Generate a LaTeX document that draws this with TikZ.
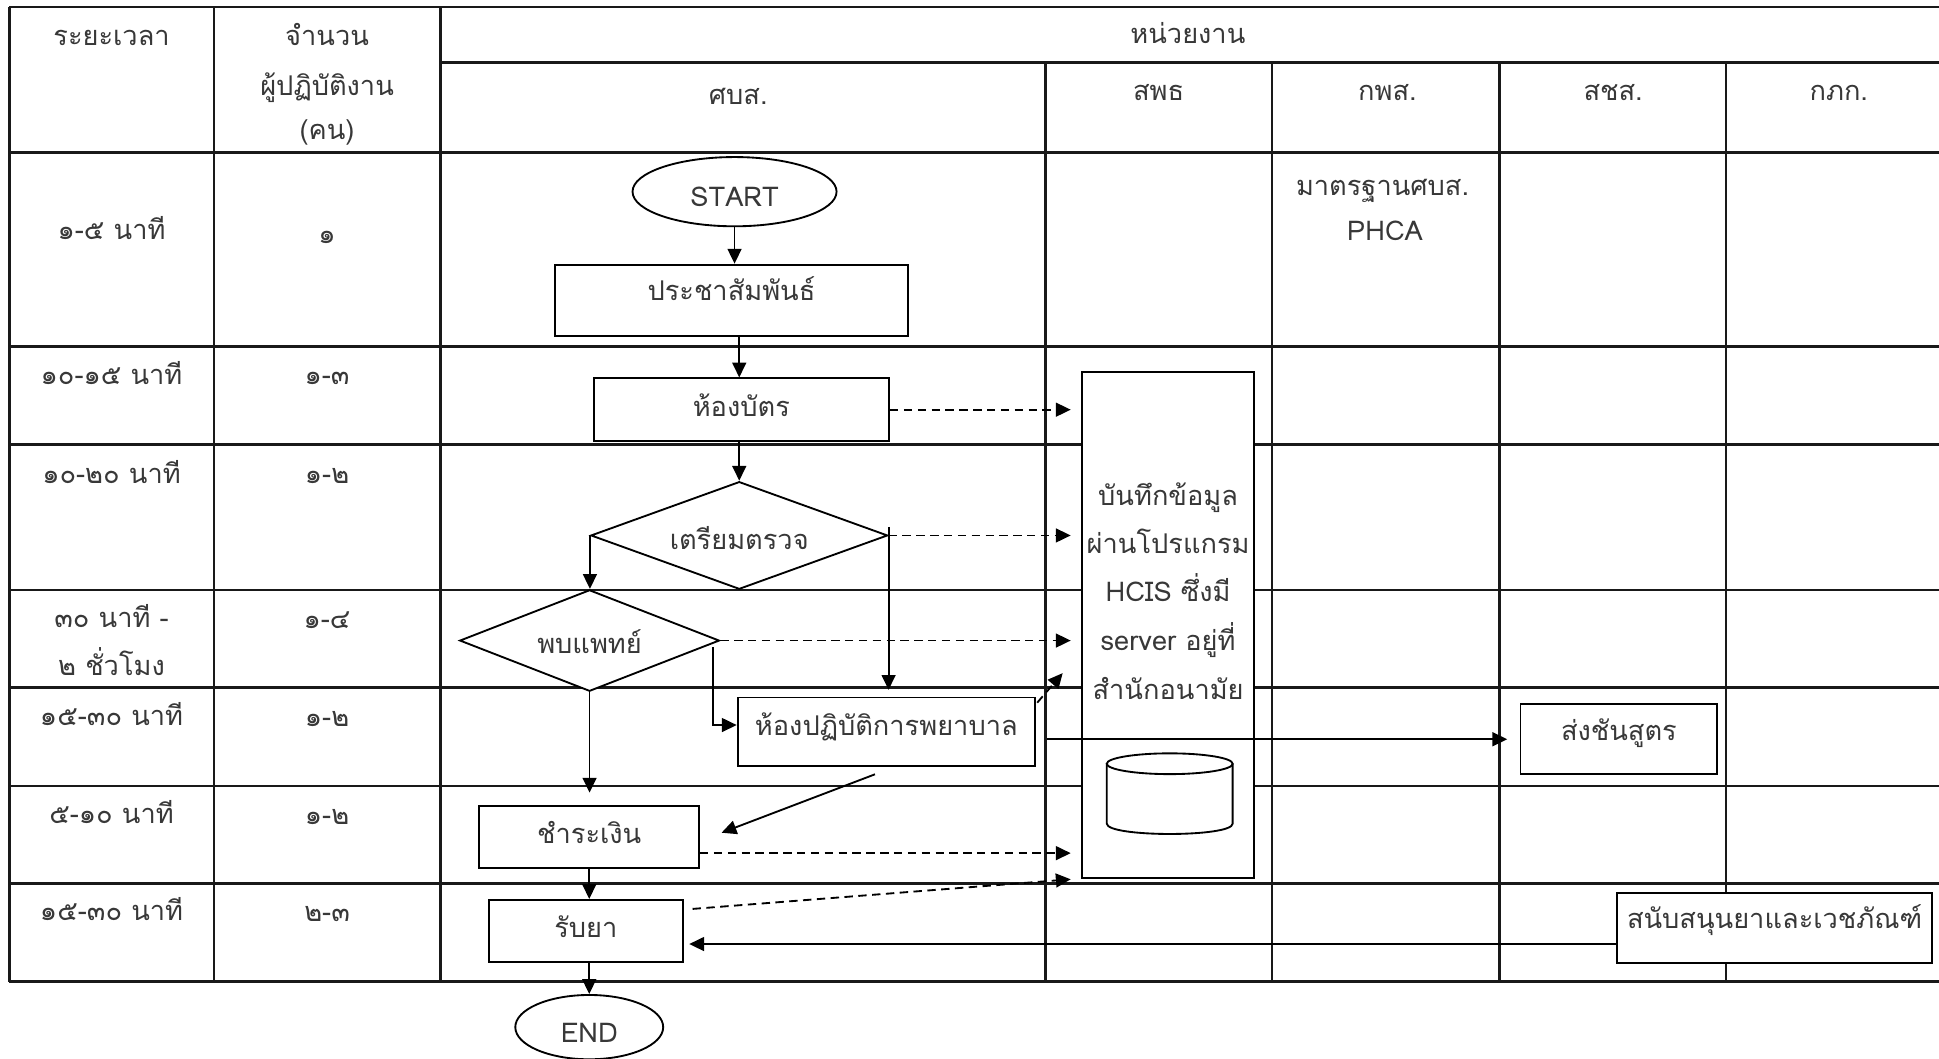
\documentclass[tikz,border=0pt]{standalone}
\usepackage{fontspec}
\setmainfont[Script=Thai]{Loma}
\usetikzlibrary{shapes.geometric,arrows.meta,calc}
\begin{document}
\begin{tikzpicture}[x=0.5pt,y=-0.5pt,
  tbl/.style={line width=1pt, black!90},
  txt/.style={font=\fontsize{11}{13}\selectfont, text=black!78},
  box/.style={txt, draw, line width=0.75pt, fill=white, inner sep=0pt, text height=5.6pt, text depth=0pt},
  term/.style={box, ellipse},
  dia/.style={box, diamond, aspect=2.6},
  lbl/.style={txt, inner sep=0pt, text height=5.6pt, text depth=0pt},
  arr/.style={line width=0.75pt, black, -{Triangle[length=6pt,width=5.6pt]}},
  dsh/.style={arr, dash pattern=on 3.4pt off 2.2pt}
]
\useasboundingbox (0,0) rectangle (1568,856);
\fill[white] (0,0) rectangle (1568,856);
\clip (0,0) rectangle (1568,856);

% ---------- table grid ----------
\draw[tbl] (7.5,5.5) -- (1600,5.5);
\draw[tbl] (356.2,50.7) -- (1600,50.7);
\draw[tbl] (7.5,123.5) -- (1600,123.5);
\foreach \yy in {280.3,359.3,477,556,635.6,714.6} \draw[tbl] (7.5,\yy) -- (1600,\yy);
\draw[tbl] (7.5,793.8) -- (1600,793.8);
\foreach \xx in {7.5,172.9,356.2} \draw[tbl] (\xx,5.5) -- (\xx,793.8);
\foreach \xx in {845.6,1028.5,1212.6,1395.7} \draw[tbl] (\xx,50.7) -- (\xx,793.8);

% ---------- header texts ----------
\node[lbl] (hTime) at (90.2,31) {ระยะเวลา};
\node[lbl] (hNum1) at (264.5,31.5) {จำนวน};
\node[lbl] (hNum2) at (264.5,72) {ผู้ปฏิบัติงาน};
\node[lbl] (hNum3) at (264.5,107) {(คน)};
\node[lbl] (hUnit) at (960.6,29.7) {หน่วยงาน};
\node[lbl] (hA) at (597,79) {ศบส.};
\node[lbl] (hB) at (937,76) {สพธ};
\node[lbl] (hC) at (1122,76) {กพส.};
\node[lbl] (hD) at (1304.5,76) {สชส.};
\node[lbl] (hE) at (1487,76) {กภก.};

% ---------- row texts ----------
\node[lbl] (t1) at (90.2,188) {๑-๕ นาที};
\node[lbl] (n1) at (264.5,191) {๑};
\node[lbl] (t2) at (90.2,305.5) {๑๐-๑๕ นาที};
\node[lbl] (n2) at (264.5,305.5) {๑-๓};
\node[lbl] (t3) at (90.2,385) {๑๐-๒๐ นาที};
\node[lbl] (n3) at (264.5,385) {๑-๒};
\node[lbl] (t4a) at (90.2,502) {๓๐ นาที -};
\node[lbl] (t4b) at (90.2,541) {๒ ชั่วโมง};
\node[lbl] (n4) at (264.5,503) {๑-๔};
\node[lbl] (t5) at (90.2,581.4) {๑๕-๓๐ นาที};
\node[lbl] (n5) at (264.5,581.5) {๑-๒};
\node[lbl] (t6) at (90.2,660.4) {๕-๑๐ นาที};
\node[lbl] (n6) at (264.5,661) {๑-๒};
\node[lbl] (t7) at (90.2,739.1) {๑๕-๓๐ นาที};
\node[lbl] (n7) at (264.5,739.9) {๒-๓};

\node[lbl] (std1) at (1118,152.8) {มาตรฐานศบส.};
\node[lbl, text height=7.6pt] (std2) at (1120,186.5) {PHCA};

% ---------- flow nodes ----------
\node[term, minimum width=82.5pt, minimum height=28pt, text height=11.6pt] (start) at (594,155) {START};
\node[box, minimum width=142.5pt, minimum height=29pt, text depth=5.3pt] (pr) at (591.5,243) {ประชาสัมพันธ์};
\node[box, minimum width=119.5pt, minimum height=25.3pt] (card) at (599.5,331.3) {ห้องบัตร};
\node[dia, minimum width=120pt, minimum height=43.5pt, text height=11.2pt] (prep) at (597.8,433) {เตรียมตรวจ};
\node[dia, minimum width=105pt, minimum height=41pt, text height=10.6pt] (doc) at (476.75,518) {พบแพทย์};
\node[box, minimum width=120.25pt, minimum height=27.7pt, text depth=2.7pt] (lab) at (716.75,591.7) {ห้องปฏิบัติการพยาบาล};
\node[box, minimum width=88.85pt, minimum height=25pt] (pay) at (476.5,676.7) {ชำระเงิน};
\node[box, minimum width=78.25pt, minimum height=25pt] (med) at (473.75,752.75) {รับยา};
\node[term, minimum width=59.8pt, minimum height=26pt, text height=12.6pt] (end) at (476.5,830.6) {END};
\node[box, minimum width=69.4pt, minimum height=204.85pt] (hcis) at (944.6,505.45) {};
\node[box, minimum width=79.55pt, minimum height=28.2pt, text depth=4.2pt] (test) at (1309.15,597.8) {ส่งชันสูตร};
\node[box, minimum width=127.4pt, minimum height=28.3pt, text depth=4.9pt] (supply) at (1435,750.2) {สนับสนุนยาและเวชภัณฑ์};

% text of the HCIS box
\node[lbl] (h1) at (944.6,403) {บันทึกข้อมูล};
\node[lbl] (h2) at (944.6,442) {ผ่านโปรแกรม};
\node[lbl] (h3) at (944.6,481) {HCIS ซึ่งมี};
\node[lbl] (h4) at (944.6,520.8) {server อยู่ที่};
\node[lbl] (h5) at (944.6,560) {สำนักอนามัย};

% database cylinder
\draw[line width=0.75pt] (895,617.6) -- (895,666) .. controls (895,677.2) and (996.8,677.2) .. (996.8,666) -- (996.8,617.6);
\draw[line width=0.75pt] (945.9,617.6) ellipse [x radius=50.9, y radius=8.4];

% ---------- connectors ----------
\coordinate (fx) at (597.8,0);
\coordinate (tip) at ($(hcis.west)+(-4.3pt,0)$);

\draw[arr] (start.south) -- (start.south |- pr.north);
\draw[arr] (pr.south -| fx) -- (card.north -| fx);
\draw[arr] (card.south -| fx) -- (prep.north);
\draw[arr] (prep.west) -- (prep.west |- doc.north);
\draw[arr] ($(prep.east)+(0,3.5pt)$) -- ($(prep.east |- lab.north)+(0,2.7pt)$);
\draw[arr] ($(doc.east)+(-2.9pt,-2.5pt)$) |- ($(lab.west)+(0,2.7pt)$);
\draw[arr, shorten >=5pt] (doc.south) -- (doc.south |- pay.north);
\draw[arr] ($(lab.south)+(-4.6pt,-3pt)$) -- ($(pay.east)+(8.7pt,1.65pt)$);
\draw[arr] (pay.south) -- (pay.south |- med.north);
\draw[arr] (end.north |- med.south) -- (end.north);
\draw[arr] ($(lab.east |- test.west)+(4.3pt,0)$) -- ($(test.west)+(-5pt,0)$);
\draw[arr] ($(supply.west)+(0,-6.6pt)$) -- ($(med.east |- supply.west)+(2.3pt,-6.6pt)$);

\draw[dsh] (card.east) -- (card.east -| tip);
\draw[dsh] (prep.east) -- (prep.east -| tip);
\draw[dsh] (doc.east) -- (doc.east -| tip);
\draw[dsh] ($(pay.east)+(0,-6.6pt)$) -- ($(pay.east -| tip)+(0,-6.6pt)$);
\draw[dsh] ($(med.north east)+(3.65pt,-4pt)$) -- (tip |- hcis.south);
\draw[dsh] ($(lab.north east)+(0.5pt,-2.5pt)$) -- ($(lab.north east)+(10.8pt,9.45pt)$);
\end{tikzpicture}
\end{document}
